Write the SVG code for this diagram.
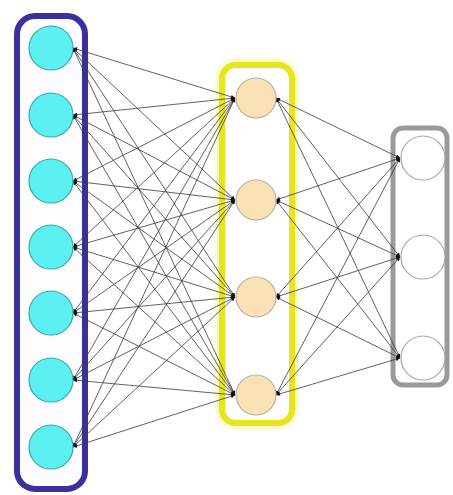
<svg xmlns="http://www.w3.org/2000/svg" width="453" height="495" viewBox="0 0 453 495">
  <style>
    .links line { stroke: #3a3a3a; stroke-width: 0.8; marker-end: url(#tip); marker-start: url(#tail); }
    .in { fill: #5cf0f2; stroke: #3aa6a8; stroke-width: 1.2; }
    .hid { fill: #fbe2b4; stroke: #b8b0a8; stroke-width: 1.2; }
    .out { fill: #ffffff; stroke: #a8a8a8; stroke-width: 1.2; }
  </style>
  <defs>
    <marker id="tip" viewBox="0 0 10 10" refX="10" refY="5" markerWidth="5" markerHeight="4" orient="auto" markerUnits="userSpaceOnUse">
      <path d="M0,0 L10,5 L0,10 z" fill="#111"/>
    </marker>
    <marker id="tail" viewBox="0 0 10 10" refX="0" refY="5" markerWidth="5" markerHeight="4" orient="auto" markerUnits="userSpaceOnUse">
      <path d="M10,0 L0,5 L10,10 z" fill="#111"/>
    </marker>
    <filter id="glow" x="-20%" y="-10%" width="140%" height="120%">
      <feGaussianBlur stdDeviation="2"/>
    </filter>
  </defs>
  <rect width="453" height="495" fill="#ffffff"/>

  <!-- layer frames -->
  <g id="frame-input">
    <rect x="17" y="16" width="68" height="473" rx="18" fill="#fdfdff" stroke="#3b30a0" stroke-width="6"/>
  </g>
  <g id="frame-hidden">
    <rect x="222" y="65" width="70" height="358" rx="14" fill="none" stroke="#f6f6b0" stroke-width="11" filter="url(#glow)"/>
    <rect x="222" y="65" width="70" height="358" rx="14" fill="#ffffff" stroke="#e6e61a" stroke-width="6"/>
  </g>
  <g id="frame-output">
    <rect x="393" y="128" width="54" height="257" rx="10" fill="#ffffff" stroke="#9a9a9a" stroke-width="5"/>
  </g>

  <!-- connectors -->
  <g id="connectors" class="links">
    <!-- input -> hidden -->
    <line x1="73" y1="48" x2="235" y2="98"/><line x1="73" y1="48" x2="235" y2="200"/><line x1="73" y1="48" x2="235" y2="297"/><line x1="73" y1="48" x2="235" y2="395"/>
    <line x1="73" y1="115" x2="235" y2="98"/><line x1="73" y1="115" x2="235" y2="200"/><line x1="73" y1="115" x2="235" y2="297"/><line x1="73" y1="115" x2="235" y2="395"/>
    <line x1="73" y1="181" x2="235" y2="98"/><line x1="73" y1="181" x2="235" y2="200"/><line x1="73" y1="181" x2="235" y2="297"/><line x1="73" y1="181" x2="235" y2="395"/>
    <line x1="73" y1="247" x2="235" y2="98"/><line x1="73" y1="247" x2="235" y2="200"/><line x1="73" y1="247" x2="235" y2="297"/><line x1="73" y1="247" x2="235" y2="395"/>
    <line x1="73" y1="313" x2="235" y2="98"/><line x1="73" y1="313" x2="235" y2="200"/><line x1="73" y1="313" x2="235" y2="297"/><line x1="73" y1="313" x2="235" y2="395"/>
    <line x1="73" y1="380" x2="235" y2="98"/><line x1="73" y1="380" x2="235" y2="200"/><line x1="73" y1="380" x2="235" y2="297"/><line x1="73" y1="380" x2="235" y2="395"/>
    <line x1="73" y1="447" x2="235" y2="98"/><line x1="73" y1="447" x2="235" y2="200"/><line x1="73" y1="447" x2="235" y2="297"/><line x1="73" y1="447" x2="235" y2="395"/>
    <!-- hidden -> output -->
    <line x1="276" y1="98" x2="400" y2="158"/><line x1="276" y1="98" x2="400" y2="257"/><line x1="276" y1="98" x2="400" y2="358"/>
    <line x1="276" y1="200" x2="400" y2="158"/><line x1="276" y1="200" x2="400" y2="257"/><line x1="276" y1="200" x2="400" y2="358"/>
    <line x1="276" y1="297" x2="400" y2="158"/><line x1="276" y1="297" x2="400" y2="257"/><line x1="276" y1="297" x2="400" y2="358"/>
    <line x1="276" y1="395" x2="400" y2="158"/><line x1="276" y1="395" x2="400" y2="257"/><line x1="276" y1="395" x2="400" y2="358"/>
  </g>

  <!-- input layer -->
  <g id="in1"><circle class="in" cx="51" cy="48" r="22"/></g>
  <g id="in2"><circle class="in" cx="51" cy="115" r="22"/></g>
  <g id="in3"><circle class="in" cx="51" cy="181" r="22"/></g>
  <g id="in4"><circle class="in" cx="51" cy="247" r="22"/></g>
  <g id="in5"><circle class="in" cx="51" cy="313" r="22"/></g>
  <g id="in6"><circle class="in" cx="51" cy="380" r="22"/></g>
  <g id="in7"><circle class="in" cx="51" cy="447" r="22"/></g>

  <!-- hidden layer -->
  <g id="h1"><circle class="hid" cx="256" cy="98" r="20"/></g>
  <g id="h2"><circle class="hid" cx="256" cy="200" r="20"/></g>
  <g id="h3"><circle class="hid" cx="256" cy="297" r="20"/></g>
  <g id="h4"><circle class="hid" cx="256" cy="395" r="20"/></g>

  <!-- output layer -->
  <g id="o1"><circle class="out" cx="423" cy="158" r="22"/></g>
  <g id="o2"><circle class="out" cx="423" cy="257" r="22"/></g>
  <g id="o3"><circle class="out" cx="423" cy="358" r="22"/></g>
</svg>
